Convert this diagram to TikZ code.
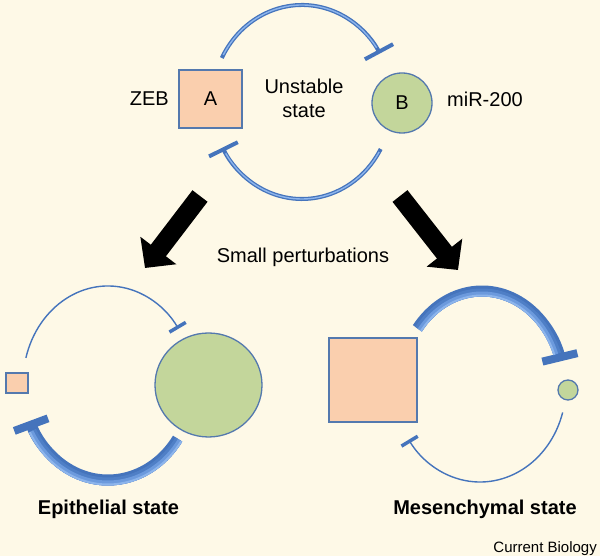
\documentclass[tikz,border=0pt]{standalone}
\usepackage{fontspec}
\setmainfont{Liberation Sans}
\usetikzlibrary{arrows.meta,shapes.geometric}
\definecolor{bg}{HTML}{FEF9E7}
\definecolor{arcdark}{HTML}{4574BC}
\definecolor{arcmid}{HTML}{5E8FD6}
\definecolor{arclight}{HTML}{8DB5EC}
\definecolor{peach}{HTML}{FACFAE}
\definecolor{leaf}{HTML}{C3D69B}
\definecolor{edgeblue}{HTML}{5479AE}
\tikzset{
  lbl/.style={font=\fontsize{20}{24}\selectfont, inner sep=0pt},
  boldlbl/.style={font=\fontsize{20}{24}\selectfont\bfseries, inner sep=0pt, anchor=base},
  sq/.style={rectangle, draw=edgeblue, line width=1.3pt, fill=peach, inner sep=0pt},
  blob/.style={draw=edgeblue, line width=1.3pt, fill=leaf, inner sep=0pt},
  tubebase/.style={draw=arcdark, line width=4pt},
  tubehi/.style={draw=arclight, line width=1.4pt},
  tubebar/.style={-{Bar[width=32pt, line width=4pt]}},
  thinarc/.style={draw=arcdark, line width=1.4pt, -{Bar[width=19pt, line width=3.5pt]}},
  thickbase/.style={draw=arcdark, line width=11pt, -{Bar[width=36pt, line width=8pt]}},
  thickA/.style={draw=arcdark!60!arcmid, line width=8pt},
  thickB/.style={draw=arcmid!70!arclight, line width=5pt},
  thickC/.style={draw=arclight, line width=2pt},
  bigarrow/.style={line width=19pt, -{Triangle[length=22pt, width=44pt]}, black}
}
\begin{document}
\begin{tikzpicture}[x=1pt, y=1pt]
\fill[bg] (0,0) rectangle (600,556);
\path[use as bounding box] (0,0) rectangle (600,556);

% ---------- top: unstable state ----------
\coordinate (ctop) at (302,454);
\draw[tubebase, tubebar] ([shift={(153:90 and 97)}]ctop) arc[start angle=153, end angle=30, x radius=90, y radius=97];
\draw[tubehi] ([shift={(151:90 and 97)}]ctop) arc[start angle=151, end angle=34, x radius=90, y radius=97];
\draw[tubebase, tubebar] ([shift={(-29:90 and 97)}]ctop) arc[start angle=-29, end angle=-152, x radius=90, y radius=97];
\draw[tubehi] ([shift={(-31:90 and 97)}]ctop) arc[start angle=-31, end angle=-148, x radius=90, y radius=97];

\node[sq, minimum width=63pt, minimum height=58pt, lbl] (A) at (210.5,457) {A};
\node[blob, circle, minimum size=60pt, lbl] (B) at (402,453) {B};
\node[lbl, anchor=base east] (zeb) at (169,450) {ZEB};
\node[lbl, anchor=base west] (mir) at (447,449) {miR-200};
\node[lbl, align=center] (unst) at (304,458) {Unstable\\state};

% ---------- transition arrows ----------
\coordinate (aL1) at (200,360);
\coordinate (aL2) at (145,288);
\coordinate (aR1) at (400,360);
\coordinate (aR2) at (458,286);
\draw[bigarrow] (aL1) -- (aL2);
\draw[bigarrow] (aR1) -- (aR2);
\node[lbl, anchor=base] (pert) at (303,293) {Small perturbations};

% ---------- bottom left: epithelial ----------
\coordinate (cL) at (108,173);
\draw[thinarc] ([shift={(165:85 and 97)}]cL) arc[start angle=165, end angle=34, x radius=85, y radius=97];
\draw[thickbase] ([shift={(-35:85 and 97)}]cL) arc[start angle=-35, end angle=-157, x radius=85, y radius=97];
\draw[thickA] ([shift={(-35:86.5 and 98.5)}]cL) arc[start angle=-35, end angle=-151, x radius=86.5, y radius=98.5];
\draw[thickB] ([shift={(-35:88 and 100)}]cL) arc[start angle=-35, end angle=-151, x radius=88, y radius=100];
\draw[thickC] ([shift={(-35:89.5 and 101.5)}]cL) arc[start angle=-35, end angle=-151, x radius=89.5, y radius=101.5];
\node[sq, minimum width=22pt, minimum height=20pt] (a1) at (17,173) {};
\node[blob, ellipse, minimum width=107pt, minimum height=104pt] (b1) at (208.5,171) {};
\node[boldlbl] (epi) at (108.5,41) {Epithelial state};

% ---------- bottom right: mesenchymal ----------
\coordinate (cR) at (482,168);
\coordinate (cR2) at (480,170);
\draw[thickbase] ([shift={(142:82 and 97)}]cR) arc[start angle=142, end angle=16, x radius=82, y radius=97];
\draw[thickA] ([shift={(142:80.5 and 95.5)}]cR) arc[start angle=142, end angle=21, x radius=80.5, y radius=95.5];
\draw[thickB] ([shift={(142:79 and 94)}]cR) arc[start angle=142, end angle=21, x radius=79, y radius=94];
\draw[thickC] ([shift={(142:77.5 and 92.5)}]cR) arc[start angle=142, end angle=21, x radius=77.5, y radius=92.5];
\draw[thinarc] ([shift={(-16:86 and 96)}]cR2) arc[start angle=-16, end angle=-146, x radius=86, y radius=96];
\node[sq, minimum width=88pt, minimum height=84pt] (a2) at (373,176) {};
\node[blob, circle, minimum size=20pt] (b2) at (568,166) {};
\node[boldlbl] (mes) at (485,41) {Mesenchymal state};

\node[font=\fontsize{15}{18}\selectfont, inner sep=0pt, anchor=base east] (cb) at (597,3) {Current Biology};
\end{tikzpicture}
\end{document}
